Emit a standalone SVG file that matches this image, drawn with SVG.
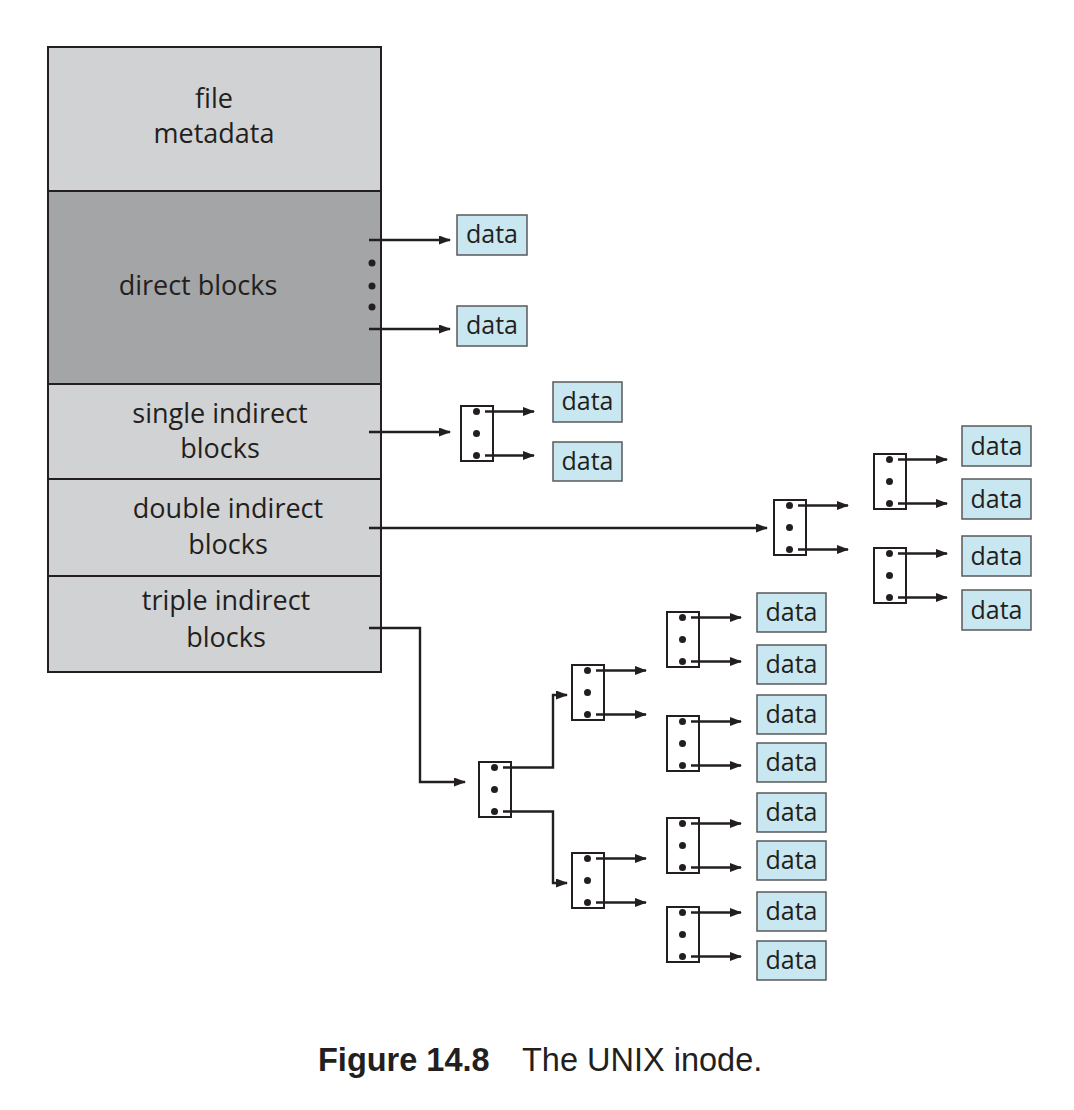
<svg xmlns="http://www.w3.org/2000/svg" width="1074" height="1110" viewBox="0 0 1074 1110">
<style>
.lbl{font-family:"Open Sans","Liberation Sans",sans-serif;font-size:27px;fill:#231f20;text-anchor:middle}
.dt{font-family:"Open Sans","Liberation Sans",sans-serif;font-size:25px;fill:#231f20;text-anchor:middle}
.light{fill:#d1d2d4;stroke:#231f20;stroke-width:2}
.dark{fill:#a4a5a7;stroke:#231f20;stroke-width:2}
.db{fill:#c9e7f1;stroke:#58595b;stroke-width:1.5}
.pb{fill:#fff;stroke:#231f20;stroke-width:2}
.dot{fill:#231f20}
.cn{fill:none;stroke:#231f20;stroke-width:2.4;marker-end:url(#ah)}
.cap{font-family:"Liberation Sans",Arial,sans-serif;font-size:32.5px;fill:#231f20}
</style>
<defs>
<marker id="ah" markerUnits="userSpaceOnUse" markerWidth="12" markerHeight="9" refX="11" refY="4.5" orient="auto">
<path d="M0,0 L12,4.5 L0,9 z" fill="#231f20"/>
</marker>
<g id="ptr">
<rect class="pb" x="0" y="0" width="32" height="55"/>
<circle class="dot" cx="15.5" cy="5.5" r="3.5"/>
<circle class="dot" cx="15.5" cy="27.5" r="3.5"/>
<circle class="dot" cx="15.5" cy="49.5" r="3.5"/>
</g>
</defs>
<rect width="1074" height="1110" fill="#fff"/>

<g id="inode">
<g id="file-metadata">
<rect class="light" x="48" y="47" width="333" height="144"/>
<text class="lbl" x="214" y="108">file</text>
<text class="lbl" x="214" y="143">metadata</text>
</g>
<g id="direct-blocks">
<rect class="dark" x="48" y="191" width="333" height="193"/>
<text class="lbl" x="198" y="295">direct blocks</text>
<circle class="dot" cx="372" cy="263" r="3.5"/>
<circle class="dot" cx="372" cy="286" r="3.5"/>
<circle class="dot" cx="372" cy="307" r="3.5"/>
</g>
<g id="single-indirect">
<rect class="light" x="48" y="384" width="333" height="95"/>
<text class="lbl" x="220" y="423">single indirect</text>
<text class="lbl" x="220" y="458">blocks</text>
</g>
<g id="double-indirect">
<rect class="light" x="48" y="479" width="333" height="97"/>
<text class="lbl" x="228" y="518">double indirect</text>
<text class="lbl" x="228" y="554">blocks</text>
</g>
<g id="triple-indirect">
<rect class="light" x="48" y="576" width="333" height="96"/>
<text class="lbl" x="226" y="610">triple indirect</text>
<text class="lbl" x="226" y="647">blocks</text>
</g>
</g>

<g id="pointer-blocks">
<use id="ptr-single" href="#ptr" x="461" y="406"/>
<use id="ptr-double-1" href="#ptr" x="774" y="500"/>
<use id="ptr-double-2a" href="#ptr" x="874" y="454"/>
<use id="ptr-double-2b" href="#ptr" x="874" y="548"/>
<use id="ptr-triple-1" href="#ptr" x="479" y="762"/>
<use id="ptr-triple-2a" href="#ptr" x="572" y="665"/>
<use id="ptr-triple-2b" href="#ptr" x="572" y="853"/>
<use id="ptr-triple-3a" href="#ptr" x="667" y="612"/>
<use id="ptr-triple-3b" href="#ptr" x="667" y="716"/>
<use id="ptr-triple-3c" href="#ptr" x="667" y="818"/>
<use id="ptr-triple-3d" href="#ptr" x="667" y="907"/>
</g>

<g id="data-blocks">
<g id="data-d1"><rect class="db" x="457" y="215" width="70" height="40"/><text class="dt" x="492" y="243">data</text></g>
<g id="data-d2"><rect class="db" x="457" y="306" width="70" height="40"/><text class="dt" x="492" y="334">data</text></g>
<g id="data-s1"><rect class="db" x="553" y="382" width="69" height="40"/><text class="dt" x="587.5" y="410">data</text></g>
<g id="data-s2"><rect class="db" x="553" y="442" width="69" height="39"/><text class="dt" x="587.5" y="470">data</text></g>
<g id="data-dd1"><rect class="db" x="962" y="426" width="69" height="40"/><text class="dt" x="996.5" y="455">data</text></g>
<g id="data-dd2"><rect class="db" x="962" y="479" width="69" height="40"/><text class="dt" x="996.5" y="508">data</text></g>
<g id="data-dd3"><rect class="db" x="962" y="536" width="69" height="40"/><text class="dt" x="996.5" y="565">data</text></g>
<g id="data-dd4"><rect class="db" x="962" y="590" width="69" height="40"/><text class="dt" x="996.5" y="619">data</text></g>
<g id="data-t1"><rect class="db" x="757" y="593" width="69" height="39"/><text class="dt" x="791.5" y="621">data</text></g>
<g id="data-t2"><rect class="db" x="757" y="645" width="69" height="39"/><text class="dt" x="791.5" y="673">data</text></g>
<g id="data-t3"><rect class="db" x="757" y="695" width="69" height="39"/><text class="dt" x="791.5" y="723">data</text></g>
<g id="data-t4"><rect class="db" x="757" y="743" width="69" height="39"/><text class="dt" x="791.5" y="771">data</text></g>
<g id="data-t5"><rect class="db" x="757" y="793" width="69" height="39"/><text class="dt" x="791.5" y="821">data</text></g>
<g id="data-t6"><rect class="db" x="757" y="841" width="69" height="39"/><text class="dt" x="791.5" y="869">data</text></g>
<g id="data-t7"><rect class="db" x="757" y="892" width="69" height="39"/><text class="dt" x="791.5" y="920">data</text></g>
<g id="data-t8"><rect class="db" x="757" y="941" width="69" height="39"/><text class="dt" x="791.5" y="969">data</text></g>
</g>

<g id="connectors">
<path class="cn" d="M369,240 H450"/>
<path class="cn" d="M369,329 H450"/>
<path class="cn" d="M369,432 H450"/>
<path class="cn" d="M485,411.5 H534"/>
<path class="cn" d="M485,455.5 H534"/>
<path class="cn" d="M369,528 H767"/>
<path class="cn" d="M798,505.5 H848"/>
<path class="cn" d="M798,549.5 H848"/>
<path class="cn" d="M898,459.5 H947"/>
<path class="cn" d="M898,503.5 H947"/>
<path class="cn" d="M898,553.5 H947"/>
<path class="cn" d="M898,597.5 H947"/>
<path class="cn" d="M369,628 H420 V782 H465"/>
<path class="cn" d="M503,767.5 H553 V695 H567"/>
<path class="cn" d="M503,811.5 H553 V883 H567"/>
<path class="cn" d="M596,670.5 H646"/>
<path class="cn" d="M596,714.5 H646"/>
<path class="cn" d="M596,858.5 H646"/>
<path class="cn" d="M596,902.5 H646"/>
<path class="cn" d="M691,617.5 H741"/>
<path class="cn" d="M691,661.5 H741"/>
<path class="cn" d="M691,721.5 H741"/>
<path class="cn" d="M691,765.5 H741"/>
<path class="cn" d="M691,823.5 H741"/>
<path class="cn" d="M691,867.5 H741"/>
<path class="cn" d="M691,912.5 H741"/>
<path class="cn" d="M691,956.5 H741"/>
</g>

<g id="caption">
<text class="cap" x="318" y="1071" font-weight="bold">Figure 14.8</text>
<text class="cap" x="522" y="1071">The UNIX inode.</text>
</g>
</svg>
